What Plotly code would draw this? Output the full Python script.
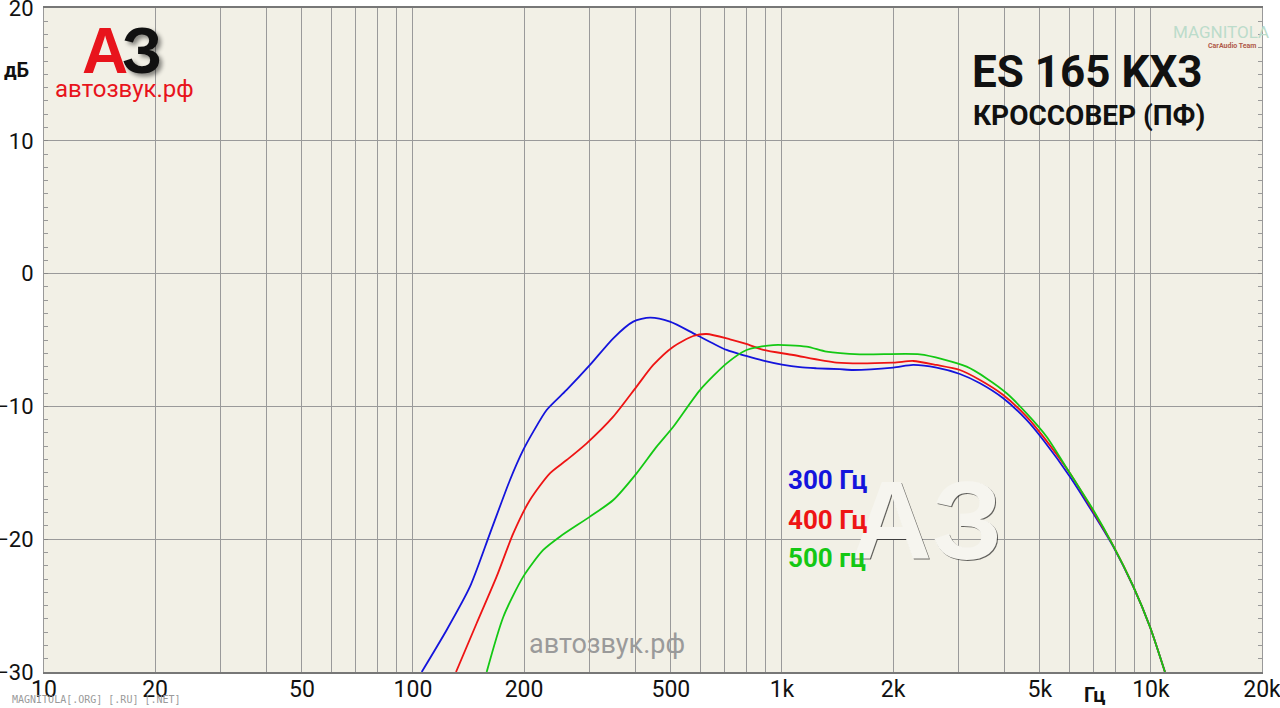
import plotly.graph_objects as go

# ---------------- data ----------------
x_tick_vals = [10, 20, 50, 100, 200, 500, 1000, 2000, 5000, 10000, 20000]
x_tick_text = ["10", "20", "50", "100", "200", "500", "1k", "2k", "5k", "10k", "20k"]
x_grid_vals = [10, 20, 30, 40, 50, 60, 70, 80, 90,
               100, 200, 300, 400, 500, 600, 700, 800, 900,
               1000, 2000, 3000, 4000, 5000, 6000, 7000, 8000, 9000,
               10000, 20000]
y_tick_vals = [-30, -20, -10, 0, 10, 20]

f_300 = [105.6, 123.4, 142.7, 161.7, 183.2, 199, 211.9, 230.3, 260.9, 301.8, 349, 395.4,
         438.8, 497, 587, 708, 800, 890, 1000, 1119, 1242, 1435, 1560, 2003, 2268, 2625,
         3036, 3441, 3979, 4603, 5107, 6033, 6978, 7906, 8957, 9938, 10915]
db_300 = [-30.0, -26.84, -23.58, -19.56, -15.54, -13.28, -11.9, -10.27, -8.76, -6.88, -4.87, -3.62,
          -3.32, -3.62, -4.62, -5.75, -6.2, -6.55, -6.85, -7.05, -7.13, -7.2, -7.26, -7.08, -6.88, -7.08,
          -7.56, -8.26, -9.39, -11.02, -12.53, -15.29, -18.05, -20.56, -23.58, -26.59, -30.0]

f_400 = [130.8, 148.8, 168.5, 187, 207.5, 235, 260.9, 295.6, 349, 403.6, 448, 507.6,
         575, 625, 723, 800, 890, 1073, 1406, 2003, 2268, 2625, 3036, 3441, 3979, 4603,
         5107, 6033, 6978, 7906, 8957, 9938, 10915]
db_400 = [-30.0, -26.33, -22.82, -19.56, -17.05, -15.04, -14.04, -12.78, -10.77, -8.51, -6.88, -5.5,
          -4.7, -4.55, -4.95, -5.3, -5.75, -6.13, -6.7, -6.7, -6.58, -6.88, -7.26, -8.01, -9.14, -10.77,
          -12.28, -15.04, -17.9, -20.5, -23.55, -26.59, -30.0]

f_500 = [158.4, 175.8, 199, 225.5, 250.2, 301.8, 349, 403.6, 457.5, 507.6, 599.6, 708,
         801.6, 947, 1166, 1321, 1626, 2364, 2735, 3167, 3586, 4064, 4603, 5216, 6033,
         6978, 7906, 8957, 9938, 10915]
db_500 = [-30.0, -25.84, -22.82, -20.81, -19.81, -18.3, -17.05, -15.04, -13.03, -11.53, -8.77, -6.76,
          -5.75, -5.38, -5.5, -5.88, -6.08, -6.08, -6.45, -7.01, -7.89, -9.01, -10.52, -12.28, -15.04,
          -17.8, -20.5, -23.55, -26.59, -30.0]

series = [
    ("300 Гц", f_300, db_300, "#1414dc"),
    ("400 Гц", f_400, db_400, "#ee1414"),
    ("500 гц", f_500, db_500, "#14c814"),
]

# ---------------- layout helpers ----------------
W, H = 1280, 708
L, R, T, B = 44, 18, 8, 36
PW, PH = W - L - R, H - T - B


def px(x):
    return (x - L) / PW


def py(y):
    return (H - B - y) / PH


BG = "#f2f0e6"
GRID = "#9a9a9a"

fig = go.Figure()
for name, fx, fy, col in series:
    fig.add_trace(go.Scatter(x=fx, y=fy, mode="lines", name=name,
                             line=dict(color=col, width=1.8, shape="spline", smoothing=0.7),
                             showlegend=False))

ann = []


def add_text(text, x, y, size, color, bold=False, family="Roboto", xanchor="center",
             yanchor="middle", shadow=None):
    font = dict(size=size, color=color, family=family)
    if bold:
        font["weight"] = "bold"
    if shadow:
        font["shadow"] = shadow
    ann.append(dict(text=text, x=px(x), y=py(y), xref="paper", yref="paper",
                    showarrow=False, xanchor=xanchor, yanchor=yanchor, font=font))


# big watermark A3 (faint outline-like)
add_text("АЗ", 926, 520, 112, "#f6f5ef", bold=True, family="Liberation Sans",
         shadow="1px 1px 0px rgba(0,0,0,0.6)")

# legend labels
for (name, fx, fy, col), yy in zip(series, [480, 520, 558]):
    add_text(name, 786, yy, 26, col, bold=True, xanchor="left")

# titles
add_text("ES 165 KX3", 1087, 72, 44, "#111111", bold=True)
add_text("КРОССОВЕР (ПФ)", 1089, 115, 28, "#111111", bold=True)

# logo top-left
add_text("А", 105, 51, 64, "#e8141c", bold=True, family="Liberation Sans")
add_text("З", 142, 51, 64, "#111111", bold=True, family="Liberation Sans",
         shadow="3px 3px 4px rgba(0,0,0,0.45)")
add_text("автозвук.рф", 124, 89, 24, "#e8141c", family="Roboto")

# watermark bottom
add_text("автозвук.рф", 607, 644, 27, "#9a9a9a", family="Roboto")

# magnitola logo
add_text("MAGNITOLA", 1221, 32, 17, "#bcdccb", family="Roboto")
add_text("CarAudio Team", 1232, 46, 7, "#b05a4a", bold=True, family="Roboto")

# axis unit labels
add_text("дБ", 16, 70, 20, "#111111", bold=True)
add_text("Гц", 1095, 695, 20, "#111111", bold=True)

# footer
add_text("MAGNITOLA[.ORG] [.RU] [.NET]", 10, 699, 10, "#9a9a9a",
         family="DejaVu Sans Mono", xanchor="left")

fig.update_layout(
    width=W, height=H, autosize=False,
    margin=dict(l=L, r=R, t=T, b=B, pad=0),
    paper_bgcolor="white", plot_bgcolor=BG,
    annotations=ann,
    xaxis=dict(
        type="log", range=[0.99999, 4.30104], automargin=False,
        tickmode="array", tickvals=x_tick_vals, ticktext=x_tick_text,
        ticklabeloverflow="allow", ticklabelstandoff=-5,
        showgrid=True, gridcolor=GRID, gridwidth=1,
        minor=dict(tickmode="array", tickvals=x_grid_vals, showgrid=True,
                   gridcolor=GRID, gridwidth=1),
        ticks="", tickfont=dict(size=23, color="#111111", family="Roboto"),
        showline=True, linecolor="#777777", linewidth=2, mirror=True,
        zeroline=False,
    ),
    yaxis=dict(
        range=[-30.001, 20.001], tickmode="array", tickvals=y_tick_vals, automargin=False,
        ticklabeloverflow="allow",
        showgrid=True, gridcolor=GRID, gridwidth=1.3,
        ticks="inside", ticklen=4, tickcolor="#888888",
        minor=dict(dtick=1, ticks="inside", ticklen=4, tickcolor="#999999", showgrid=False),
        tickfont=dict(size=22, color="#111111", family="Roboto"),
        ticklabelstandoff=5,
        showline=True, linecolor="#999999", linewidth=1, mirror="ticks",
        zeroline=False,
    ),
)

fig.write_html("out.html", config={"displayModeBar": False},
               post_script="document.body.style.margin='0';")
